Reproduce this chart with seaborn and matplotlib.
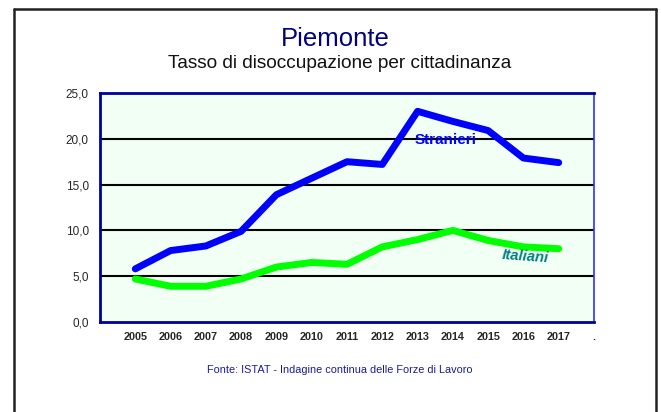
import pandas as pd
import matplotlib.pyplot as plt
import seaborn as sns
from matplotlib.lines import Line2D

years = [2005, 2006, 2007, 2008, 2009, 2010, 2011, 2012, 2013, 2014, 2015, 2016, 2017]
stranieri = [5.8, 7.8, 8.3, 9.9, 13.9, 15.7, 17.5, 17.2, 23.0, 21.9, 20.9, 17.9, 17.4]
italiani = [4.7, 3.9, 3.9, 4.7, 6.0, 6.5, 6.3, 8.2, 9.0, 10.0, 8.9, 8.2, 8.0]
tick_labels = [str(y) for y in years] + ["."]

df = pd.DataFrame({"anno": years, "Stranieri": stranieri, "Italiani": italiani})

sns.set_style("white")
plt.rcParams["font.family"] = ["Liberation Sans", "DejaVu Sans"]

fig = plt.figure(figsize=(6.61, 4.12), dpi=100)
ax = fig.add_axes([100 / 661, 1 - 322 / 412, 494 / 661, 229 / 412])
ax.set_facecolor("#F2FFF4")

for v in [5, 10, 15, 20]:
    ax.axhline(v, color="black", lw=1.5, zorder=1)

sns.lineplot(data=df, x="anno", y="Stranieri", color="#0000FF", lw=5,
             solid_capstyle="round", ax=ax, zorder=3)
sns.lineplot(data=df, x="anno", y="Italiani", color="#00FF00", lw=5,
             solid_capstyle="round", ax=ax, zorder=3)

ax.set_xlim(2004, 2018)
ax.set_ylim(0, 25)
ax.set_xticks(years + [2018])
ax.set_xticklabels(tick_labels, fontsize=7.8, fontweight="bold")
ax.set_yticks([0, 5, 10, 15, 20, 25])
ax.set_yticklabels(["0,0", "5,0", "10,0", "15,0", "20,0", "25,0"], fontsize=8.5)
ax.tick_params(axis="x", direction="in", length=8, width=1, color="black", pad=7)
ax.tick_params(axis="y", length=0, pad=8)
ax.set_xlabel("")
ax.set_ylabel("")

for s in ["left", "bottom", "top"]:
    ax.spines[s].set_color("#0000A0")
    ax.spines[s].set_linewidth(2)
ax.spines["right"].set_color("#3030FF")
ax.spines["right"].set_linewidth(1.2)

ax.text(2013.8, 19.9, "Stranieri", color="#0000FF", fontsize=11, fontweight="bold",
        ha="center", va="center", zorder=4)
ax.text(2016.05, 7.1, "Italiani", color="#008080", fontsize=10.6, fontweight="bold",
        style="italic", ha="center", va="center", rotation=-4, zorder=4)

fig.text(335 / 661, 1 - 46 / 412, "Piemonte", color="#000080", fontsize=18.5,
         ha="center", va="baseline")
fig.text(340 / 661, 1 - 68 / 412, "Tasso di disoccupazione per cittadinanza",
         color="#111111", fontsize=13.7, ha="center", va="baseline")
fig.text(340 / 661, 1 - 373 / 412, "Fonte: ISTAT - Indagine continua delle Forze di Lavoro",
         color="#1a1a9a", fontsize=7.8, ha="center", va="baseline")

# cornice esterna
fx0, fx1, fy = 14 / 661, 656 / 661, 1 - 9 / 412
for xs, ys in [([fx0, fx0], [0, fy]), ([fx1, fx1], [0, fy]), ([fx0, fx1], [fy, fy])]:
    fig.add_artist(Line2D(xs, ys, transform=fig.transFigure, color="#222222", lw=1.8))

fig.savefig("out.png", dpi=100)
